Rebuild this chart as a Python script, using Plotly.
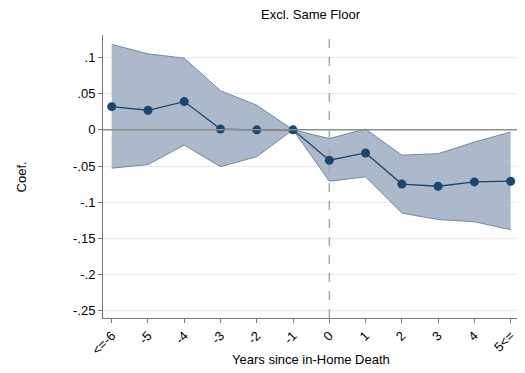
import plotly.graph_objects as go

years = [-6, -5, -4, -3, -2, -1, 0, 1, 2, 3, 4, 5]
tick_labels = ["<=-6", "-5", "-4", "-3", "-2", "-1", "0", "1", "2", "3", "4", "5<="]
coef = [0.032, 0.027, 0.039, 0.001, 0.0, 0.0, -0.042, -0.032, -0.075, -0.078, -0.072, -0.071]
ci_upper = [0.118, 0.105, 0.099, 0.054, 0.034, 0.0, -0.012, 0.001, -0.035, -0.033, -0.017, -0.003]
ci_lower = [-0.053, -0.048, -0.021, -0.051, -0.037, 0.0, -0.071, -0.065, -0.115, -0.124, -0.127, -0.138]
y_ticks = [0.1, 0.05, 0, -0.05, -0.1, -0.15, -0.2, -0.25]
y_tick_labels = [".1", ".05", "0", "-.05", "-.1", "-.15", "-.2", "-.25"]

fill_col = "rgba(150,168,190,0.8)"
edge_col = "rgb(110,138,166)"
navy = "rgb(26,71,111)"
FS = 13

fig = go.Figure()
fig.add_trace(go.Scatter(x=years, y=ci_upper, mode="lines",
                         line=dict(color=edge_col, width=1), showlegend=False))
fig.add_trace(go.Scatter(x=years, y=ci_lower, mode="lines", fill="tonexty",
                         fillcolor=fill_col, line=dict(color=edge_col, width=1), showlegend=False))
fig.add_hline(y=0, line=dict(color="rgb(140,140,140)", width=1.5))
fig.add_vline(x=0, line=dict(color="rgb(170,170,170)", width=1.5, dash="dash"))
fig.add_trace(go.Scatter(x=years, y=coef, mode="lines+markers",
                         line=dict(color=navy, width=1.3),
                         marker=dict(color=navy, size=9), showlegend=False))

fig.update_layout(
    width=517, height=365,
    margin=dict(l=95, r=6, t=27, b=55),
    paper_bgcolor="white", plot_bgcolor="white",
    font=dict(family="Liberation Sans, Arial, sans-serif", size=FS, color="black"),
)
fig.add_annotation(text="Excl. Same Floor", xref="paper", yref="paper",
                   x=0.5, y=1.071, xanchor="center", yanchor="middle", showarrow=False,
                   font=dict(size=FS, color="black"))
fig.add_annotation(text="Years since in-Home Death", xref="paper", yref="paper",
                   x=0.5, y=-0.145, xanchor="center", yanchor="middle", showarrow=False,
                   font=dict(size=FS, color="black"))
fig.add_annotation(text="Coef.", xref="paper", yref="paper",
                   x=-0.195, y=0.5, xanchor="center", yanchor="middle", showarrow=False,
                   textangle=-90, font=dict(size=FS, color="black"))
fig.update_xaxes(
    range=[-6.24, 5.23], tickvals=years, ticktext=tick_labels, tickangle=-45,
    showgrid=False, zeroline=False, showline=True, linecolor="rgb(120,120,120)", linewidth=1,
    ticks="outside", ticklen=4, tickcolor="rgb(120,120,120)", automargin=False,
    tickfont=dict(size=FS),
)
fig.update_yaxes(
    range=[-0.26, 0.131], tickvals=y_ticks, ticktext=y_tick_labels,
    showgrid=True, gridcolor="rgb(234,234,234)", gridwidth=1.2, zeroline=False,
    showline=True, linecolor="rgb(120,120,120)", linewidth=1,
    ticks="outside", ticklen=4, tickcolor="rgb(120,120,120)", automargin=False,
    tickfont=dict(size=FS),
)

fig.write_html("out.html")
